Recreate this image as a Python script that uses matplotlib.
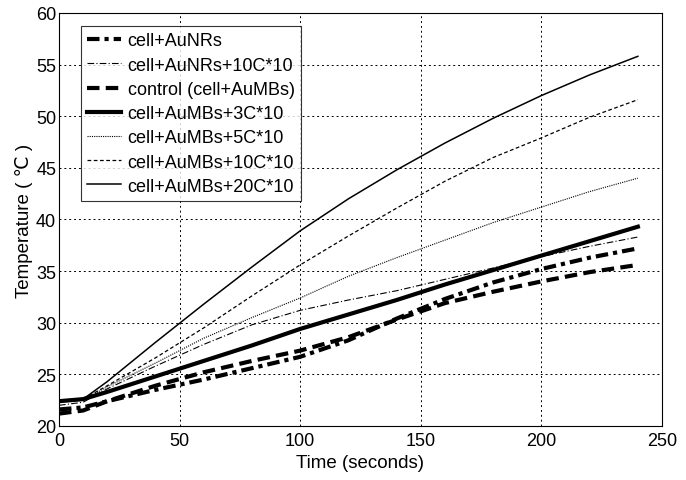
import numpy as np
import matplotlib.pyplot as plt

plt.rcParams['font.family'] = ['Liberation Sans', 'DejaVu Sans']

time = [0, 10, 20, 40, 60, 80, 100, 120, 140, 160, 180, 200, 220, 240]

aunrs = [21.6, 21.8, 22.4, 23.5, 24.5, 25.6, 26.7, 28.3, 30.4, 32.3, 33.9, 35.2, 36.3, 37.2]
aunrs_10c = [22.0, 22.3, 23.6, 25.8, 27.9, 29.8, 31.2, 32.2, 33.1, 34.2, 35.3, 36.4, 37.4, 38.3]
control = [21.2, 21.5, 22.4, 23.9, 25.2, 26.3, 27.3, 28.6, 30.3, 31.9, 33.0, 34.0, 34.9, 35.6]
aumbs_3c = [22.4, 22.6, 23.3, 24.8, 26.3, 27.8, 29.4, 30.8, 32.2, 33.7, 35.1, 36.5, 37.9, 39.3]
aumbs_5c = [22.3, 22.5, 23.8, 26.1, 28.5, 30.5, 32.4, 34.5, 36.3, 38.0, 39.7, 41.2, 42.7, 44.0]
aumbs_10c = [22.3, 22.6, 23.9, 26.6, 29.5, 32.6, 35.6, 38.4, 41.1, 43.7, 46.0, 47.9, 49.9, 51.6]
aumbs_20c = [22.5, 22.6, 24.3, 28.1, 31.8, 35.4, 38.9, 42.0, 44.8, 47.4, 49.8, 52.0, 54.0, 55.8]

labels = ['cell+AuNRs', 'cell+AuNRs+10C*10', 'control (cell+AuMBs)',
          'cell+AuMBs+3C*10', 'cell+AuMBs+5C*10', 'cell+AuMBs+10C*10',
          'cell+AuMBs+20C*10']

fig = plt.figure(figsize=(6.86, 4.81), dpi=100)
ax = fig.add_axes([0.086, 0.1123, 0.879, 0.8587])

ax.plot(time, aunrs, color='k', lw=3, linestyle=(0, (3, 1.2, 1, 1.2)), label=labels[0])
ax.plot(time, aunrs_10c, color='k', lw=0.8, linestyle=(0, (6, 2, 1, 2)), label=labels[1])
ax.plot(time, control, color='k', lw=3, linestyle=(0, (3, 1.5)), label=labels[2])
ax.plot(time, aumbs_3c, color='k', lw=3, linestyle='-', label=labels[3])
ax.plot(time, aumbs_5c, color='k', lw=0.8, linestyle=(0, (1, 1)), label=labels[4])
ax.plot(time, aumbs_10c, color='k', lw=0.9, linestyle=(0, (3, 2)), label=labels[5])
ax.plot(time, aumbs_20c, color='k', lw=1.1, linestyle='-', label=labels[6])

ax.set_xlim(0, 250)
ax.set_ylim(20, 60)
ax.set_xticks(np.arange(0, 251, 50))
ax.set_yticks(np.arange(20, 61, 5))
ax.grid(True, color='k', linestyle=(0, (2, 3)), linewidth=0.7)
ax.tick_params(direction='in', length=0, labelsize=13)
ax.tick_params(axis='x', pad=4)
ax.tick_params(axis='y', pad=2)
for s in ax.spines.values():
    s.set_linewidth(0.8)

ax.set_xlabel('Time (seconds)', fontsize=13.5, labelpad=4)
ax.set_ylabel('Temperature ( \u2103 )', fontsize=13.5, labelpad=2)

leg = ax.legend(loc='upper left', bbox_to_anchor=(0.036, 0.968), fontsize=13,
                frameon=True, fancybox=False, edgecolor='k', handlelength=1.9,
                labelspacing=0.4, borderpad=0.35, handletextpad=0.35,
                borderaxespad=0)
leg.get_frame().set_linewidth(0.8)

fig.savefig('out.png', dpi=100)
